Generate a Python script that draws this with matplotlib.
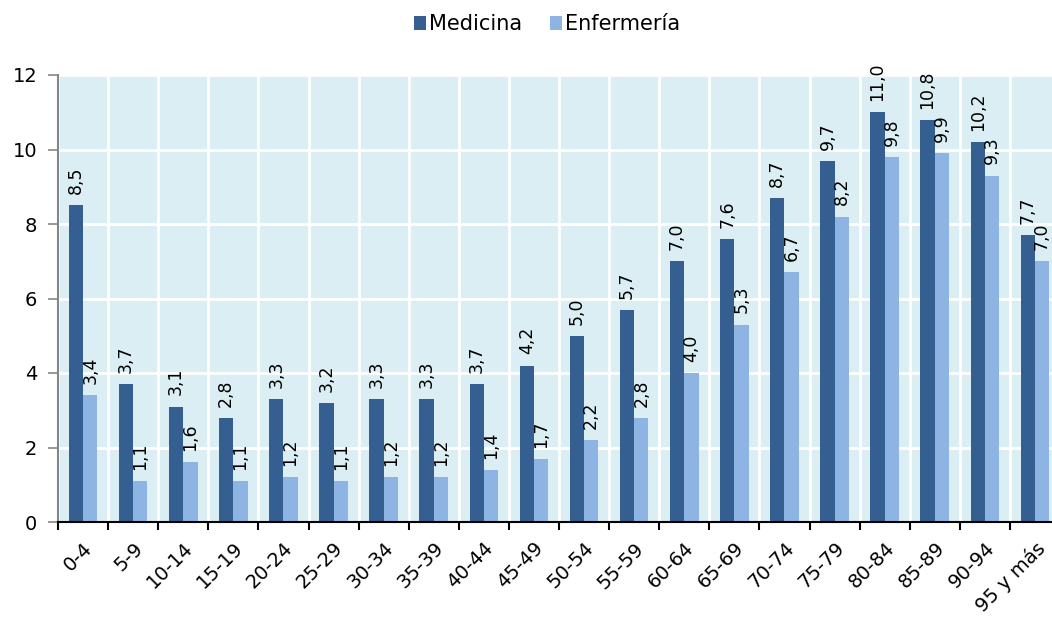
import matplotlib
matplotlib.use("Agg")
import matplotlib.pyplot as plt
import numpy as np

grupos = ["0-4", "5-9", "10-14", "15-19", "20-24", "25-29", "30-34", "35-39",
          "40-44", "45-49", "50-54", "55-59", "60-64", "65-69", "70-74", "75-79",
          "80-84", "85-89", "90-94", "95 y más"]
medicina = [8.5, 3.7, 3.1, 2.8, 3.3, 3.2, 3.3, 3.3, 3.7, 4.2, 5.0, 5.7, 7.0, 7.6,
            8.7, 9.7, 11.0, 10.8, 10.2, 7.7]
enfermeria = [3.4, 1.1, 1.6, 1.1, 1.2, 1.1, 1.2, 1.2, 1.4, 1.7, 2.2, 2.8, 4.0, 5.3,
              6.7, 8.2, 9.8, 9.9, 9.3, 7.0]

c_med = "#355f91"
c_enf = "#8eb4e3"
fondo = "#daeef3"
gris = "#868686"

plt.rcParams['font.family'] = ['DejaVu Sans']

fig = plt.figure(figsize=(10.52, 6.17), dpi=100)
ax = fig.add_axes([58/1052, 1 - 522/617, 1002/1052, 447/617])
ax.set_facecolor(fondo)

x = np.arange(len(grupos))
w = 0.285
b1 = ax.bar(x - w/2, medicina, w, color=c_med, label="Medicina", zorder=3)
b2 = ax.bar(x + w/2, enfermeria, w, color=c_enf, label="Enfermería", zorder=3)

# etiquetas de datos verticales
for bars, vals in [(b1, medicina), (b2, enfermeria)]:
    for r, v in zip(bars, vals):
        ax.annotate(f"{v:.1f}".replace(".", ","),
                    (r.get_x() + r.get_width()/2, r.get_height()),
                    xytext=(0, 8), textcoords="offset points",
                    rotation=90, ha="center", va="bottom", fontsize=12.5,
                    annotation_clip=False, zorder=4)

ax.set_xlim(-0.5, len(grupos) - 0.5)
ax.set_ylim(0, 12)
ax.set_yticks(range(0, 13, 2))
ax.set_xticks(x)
ax.set_xticklabels(grupos, rotation=45, ha="right", rotation_mode="anchor")
ax.set_xticks(np.arange(-0.5, len(grupos), 1), minor=True)
ax.tick_params(axis="x", which="major", length=0, pad=12, labelsize=14)
ax.tick_params(axis="x", which="minor", length=6, width=1.5, color="black", direction="out")
ax.tick_params(axis="y", length=7, width=1.2, color=gris, pad=8, labelsize=14)

ax.grid(axis="y", color="white", linewidth=2, zorder=1)
ax.grid(axis="x", which="minor", color="white", linewidth=2, zorder=1)
ax.set_axisbelow(True)

for s in ["top", "right"]:
    ax.spines[s].set_visible(False)
ax.spines["left"].set_color(gris)
ax.spines["left"].set_linewidth(1.5)
ax.spines["bottom"].set_color("black")
ax.spines["bottom"].set_linewidth(1.5)
ax.spines["left"].set_zorder(5)
ax.spines["bottom"].set_zorder(5)

fig.legend(handles=[b1, b2], loc="upper center", bbox_to_anchor=(0.52, 1.007),
           ncol=2, frameon=False, fontsize=15, handlelength=0.6,
           handleheight=0.6, handletextpad=0.15, columnspacing=1.3)

fig.savefig("out.png", dpi=100)
